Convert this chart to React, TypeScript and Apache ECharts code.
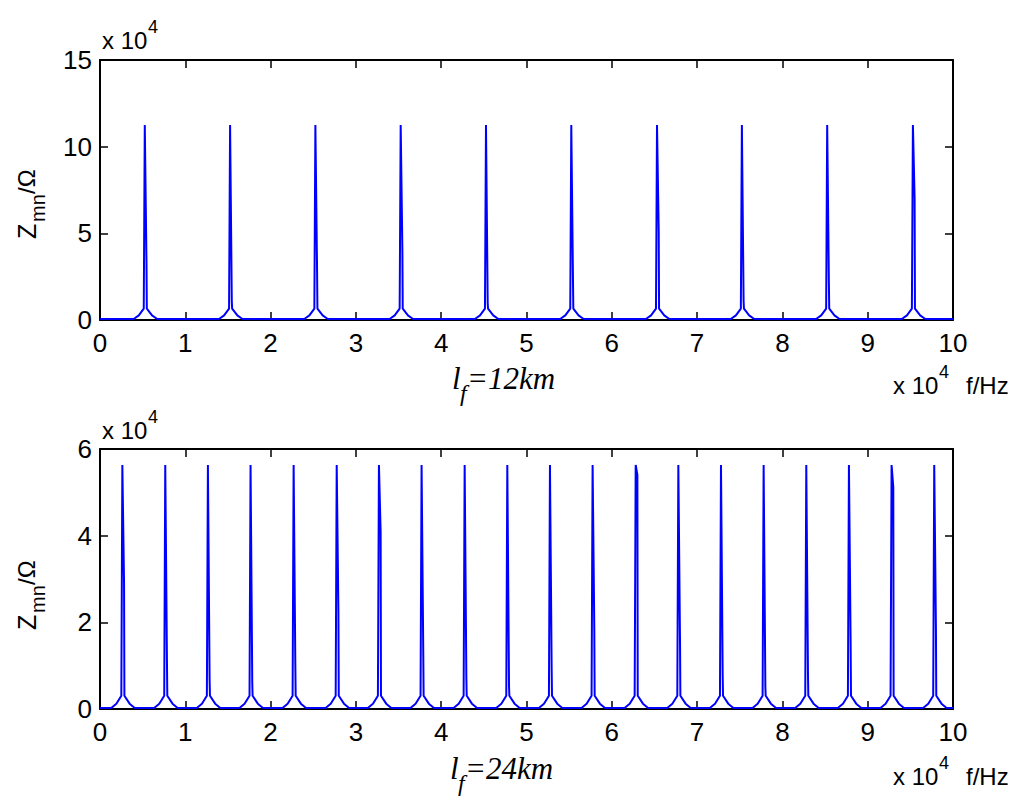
import React, { useEffect, useRef } from "react";
import * as echarts from "echarts";

// ---- data (x in 10^4 Hz, y in 10^4 Ohm) ----
const xTicks = [0, 1, 2, 3, 4, 5, 6, 7, 8, 9, 10];

// top subplot, l_f = 12 km
const topCenters = [0.525, 1.525, 2.525, 3.525, 4.525, 5.525, 6.53, 7.525, 8.525, 9.53];
const topPeaks = [11.25, 11.25, 11.25, 11.25, 11.25, 11.25, 11.25, 11.25, 11.25, 11.25];
const topSecond = [3.3, 1.1, 2.8, 4.0, 1.0, 2.3, 5.1, 1.1, 2.1, 7.0];
const topHat = [0.6, 0.6, 0.6, 0.6, 0.6, 0.6, 0.6, 0.6, 0.6, 0.6];
const topYTicks = [0, 5, 10, 15];

// bottom subplot, l_f = 24 km
const botCenters = [0.262, 0.765, 1.265, 1.765, 2.27, 2.775, 3.27, 3.77, 4.275, 4.775, 5.275, 5.775, 6.28, 6.78, 7.28, 7.78, 8.28, 8.78, 9.28, 9.78];
const botPeaks = [5.63, 5.63, 5.63, 5.63, 5.63, 5.63, 5.63, 5.63, 5.63, 5.63, 5.63, 5.63, 5.63, 5.63, 5.63, 5.63, 5.63, 5.63, 5.63, 5.63];
const botSecond = [2.9, 1.08, 0.67, 0.6, 1.0, 2.24, 4.08, 1.25, 0.7, 0.53, 0.9, 1.8, 5.4, 1.48, 0.78, 0.53, 0.78, 1.48, 5.12, 1.85];
const botHat = [0.28, 0.28, 0.28, 0.28, 0.28, 0.28, 0.28, 0.28, 0.28, 0.28, 0.28, 0.28, 0.28, 0.28, 0.28, 0.28, 0.28, 0.28, 0.28, 0.28];
const botYTicks = [0, 2, 4, 6];

// hat profile around each resonance: [x offset, fraction of hat height]
const hatProfileLeft: [number, number][] = [
  [-0.13, 0],
  [-0.07, 0.35],
  [-0.012, 1],
];
const hatProfileRight: [number, number][] = [
  [0.024, 1],
  [0.085, 0.35],
  [0.145, 0],
];

function buildCurve(centers: number[], peaks: number[], second: number[], hat: number[], base: number) {
  const pts: [number, number][] = [[0, base]];
  centers.forEach((c, i) => {
    hatProfileLeft.forEach(([dx, f]) => pts.push([c + dx, base + f * hat[i]]));
    pts.push([c, peaks[i]]);
    pts.push([c + 0.02, second[i]]);
    hatProfileRight.forEach(([dx, f]) => pts.push([c + dx, base + f * hat[i]]));
  });
  pts.push([10, base]);
  return pts;
}

const LABEL_FONT = "'Liberation Sans Narrow', 'Arial Narrow', Arial, sans-serif";
const ITALIC_FONT = "'Liberation Serif', 'Times New Roman', serif";

export default function App() {
  const ref = useRef<HTMLDivElement>(null);
  useEffect(() => {
    if (!ref.current) return;
    const chart = echarts.init(ref.current, null, { renderer: "svg" });

    const left = 100;
    const width = 853;
    const grids = [
      { left, top: 60, width, height: 260 },
      { left, top: 449, width, height: 260 },
    ];

    const mkLine = () => ({ show: true, onZero: false, lineStyle: { color: "#000", width: 2 } });
    const mkTick = () => ({ show: true, inside: true, length: 8, lineStyle: { color: "#000", width: 1.5 } });
    const mkLabel = (margin: number) => ({ show: true, inside: false, color: "#000", fontSize: 26, fontFamily: LABEL_FONT, margin });

    const xAxisFor = (gi: number, pos: "bottom" | "top", labels: boolean) => ({
      type: "value" as const,
      gridIndex: gi,
      position: pos,
      min: xTicks[0],
      max: xTicks[xTicks.length - 1],
      interval: 1,
      axisLine: mkLine(),
      axisTick: mkTick(),
      axisLabel: labels ? mkLabel(10) : { show: false },
      splitLine: { show: false },
    });
    const yAxisFor = (gi: number, pos: "left" | "right", labels: boolean, ticks: number[]) => ({
      type: "value" as const,
      gridIndex: gi,
      position: pos,
      min: ticks[0],
      max: ticks[ticks.length - 1],
      interval: ticks[1] - ticks[0],
      axisLine: mkLine(),
      axisTick: mkTick(),
      axisLabel: labels ? mkLabel(8) : { show: false },
      splitLine: { show: false },
    });

    const txt = (x: number, y: number, text: string, size: number) => ({
      type: "text",
      x,
      y,
      style: { text, fontSize: size, fontFamily: LABEL_FONT, fill: "#000", verticalAlign: "middle" },
    });
    const itx = (x: number, y: number, text: string, size: number) => ({
      type: "text",
      x,
      y,
      style: { text, fontSize: size, fontFamily: ITALIC_FONT, fontStyle: "italic", fill: "#000", verticalAlign: "middle" },
    });

    const yTitle = (x0: number, y0: number) => ({
      type: "group",
      x: x0,
      y: y0,
      rotation: Math.PI / 2,
      children: [txt(0, 0, "Z", 25), txt(17, 11, "mn", 20), txt(45, -1, "/Ω", 24)],
    });

    const sci = (x0: number, y0: number) => [txt(x0, y0, "x 10", 24), txt(x0 + 46, y0 - 13, "4", 18)];

    const xTitleRight = (x0: number, y0: number) => [...sci(x0, y0), txt(x0 + 73, y0, "f/Hz", 24)];

    const lfLabel = (x0: number, y0: number, rest: string) => [
      itx(x0, y0, "l", 31),
      itx(x0 + 8, y0 + 15, "f", 24),
      itx(x0 + 15, y0, rest, 31),
    ];

    chart.setOption({
      animation: false,
      backgroundColor: "#fff",
      grid: grids,
      xAxis: [xAxisFor(0, "bottom", true), xAxisFor(0, "top", false), xAxisFor(1, "bottom", true), xAxisFor(1, "top", false)],
      yAxis: [
        yAxisFor(0, "left", true, topYTicks),
        yAxisFor(0, "right", false, topYTicks),
        yAxisFor(1, "left", true, botYTicks),
        yAxisFor(1, "right", false, botYTicks),
      ],
      series: [
        {
          type: "line",
          xAxisIndex: 0,
          yAxisIndex: 0,
          data: buildCurve(topCenters, topPeaks, topSecond, topHat, 0.06),
          showSymbol: false,
          lineStyle: { color: "#0000ff", width: 2 },
          z: 5,
        },
        {
          type: "line",
          xAxisIndex: 2,
          yAxisIndex: 2,
          data: buildCurve(botCenters, botPeaks, botSecond, botHat, 0.025),
          showSymbol: false,
          lineStyle: { color: "#0000ff", width: 2 },
          z: 5,
        },
      ],
      graphic: [
        yTitle(27, 239),
        yTitle(27, 630),
        ...sci(102, 40),
        ...sci(102, 430),
        ...xTitleRight(893, 385),
        ...xTitleRight(893, 776),
        ...lfLabel(452, 378, "=12km"),
        ...lfLabel(450, 768, "=24km"),
      ],
    });
    return () => chart.dispose();
  }, []);
  return <div ref={ref} style={{ width: 1024, height: 805, margin: -8 }} />;
}
